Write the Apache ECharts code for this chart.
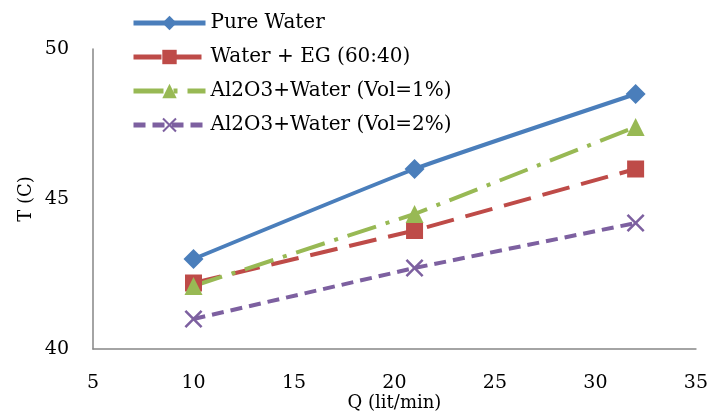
<!DOCTYPE html>
<html>
<head>
<meta charset="utf-8">
<script src="https://cdn.jsdelivr.net/npm/echarts@6/dist/echarts.min.js"></script>
<style>
  html, body { margin: 0; padding: 0; background: #fff; }
  #chart { width: 711px; height: 417px; }
</style>
</head>
<body>
<div id="chart"></div>
<script>
// flow rate Q (lit/min)
var flowRates = [10, 21, 32]
// temperature T (C) per fluid
var pureWater = [43.0, 46.0, 48.5]
var waterEG = [42.2, 43.95, 46.0]
var al2o3Vol1 = [42.1, 44.5, 47.4]
var al2o3Vol2 = [41.0, 42.7, 44.2]
var seriesNames = ['Pure Water', 'Water + EG (60:40)', 'Al2O3+Water (Vol=1%)', 'Al2O3+Water (Vol=2%)']

var font = 'DejaVu Serif'
var crossPath = 'path://M0,1L1,0L5,4L9,0L10,1L6,5L10,9L9,10L5,6L1,10L0,9L4,5Z'

function pairs (ys) {
  return flowRates.map(function (x, i) { return [x, ys[i]] })
}

function makeSeries (name, data, color, dash, symbol, size, smooth) {
  return {
    name: name,
    type: 'line',
    data: pairs(data),
    symbol: symbol,
    symbolSize: size,
    showSymbol: true,
    smooth: smooth,
    animation: false,
    lineStyle: { color: color, width: 4, type: dash },
    itemStyle: { color: color }
  }
}

var chart = echarts.init(document.getElementById('chart'))
chart.setOption({
  textStyle: { fontFamily: font },
  grid: { left: 93, right: 14, top: 49, bottom: 66 },
  legend: {
    orient: 'vertical',
    left: 126,
    top: 8,
    itemWidth: 72,
    itemHeight: 18,
    itemGap: 14,
    lineStyle: { width: 5, type: 'inherit' },
    textStyle: { fontFamily: font, fontSize: 20, color: '#000' },
    data: seriesNames
  },
  xAxis: {
    type: 'value',
    min: 5,
    max: 35,
    interval: 5,
    name: 'Q (lit/min)',
    nameLocation: 'middle',
    nameGap: 45,
    nameMoveOverlap: false,
    nameTextStyle: { fontFamily: font, fontSize: 18, color: '#000' },
    axisLine: { lineStyle: { color: '#868686', width: 1.5 } },
    axisTick: { show: false },
    splitLine: { show: false },
    axisLabel: { fontFamily: font, fontSize: 19, color: '#000', margin: 25 }
  },
  yAxis: {
    type: 'value',
    min: 40,
    max: 50,
    interval: 5,
    name: 'T (C)',
    nameLocation: 'middle',
    nameGap: 58,
    nameMoveOverlap: false,
    nameTextStyle: { fontFamily: font, fontSize: 18, color: '#000' },
    axisLine: { show: true, lineStyle: { color: '#868686', width: 1.5 } },
    axisTick: { show: false },
    splitLine: { show: false },
    axisLabel: { fontFamily: font, fontSize: 19, color: '#000', margin: 24 }
  },
  series: [
    makeSeries(seriesNames[0], pureWater, '#4A7EBB', 'solid', 'diamond', 20, 0.15),
    makeSeries(seriesNames[1], waterEG, '#BE4B48', [28, 12], 'rect', 17, false),
    makeSeries(seriesNames[2], al2o3Vol1, '#98B954', [30, 10, 4, 10], 'triangle', 18, false),
    makeSeries(seriesNames[3], al2o3Vol2, '#7D60A0', [12, 7], crossPath, 18, false)
  ]
})
</script>
</body>
</html>
